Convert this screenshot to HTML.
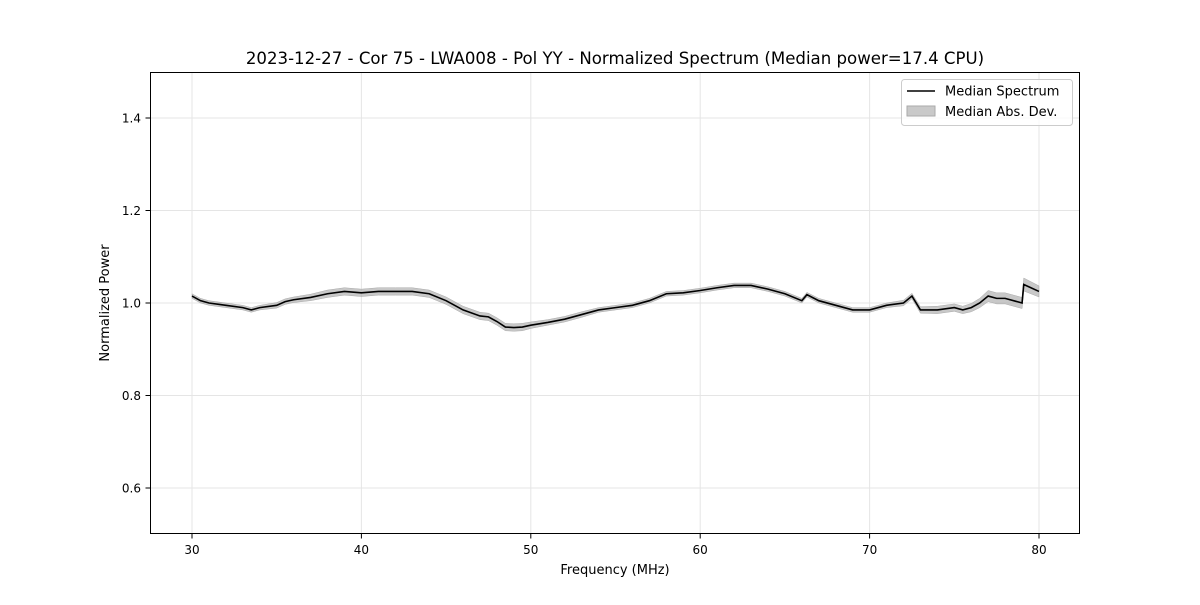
<!DOCTYPE html>
<html><head><meta charset="utf-8"><style>
body{margin:0;background:#fff;font-family:"Liberation Sans","DejaVu Sans",sans-serif;}
</style></head><body>
<svg id="chart" width="1200" height="600" xmlns="http://www.w3.org/2000/svg" font-family="DejaVu Sans, Liberation Sans, sans-serif">
<rect width="1200" height="600" fill="#fff"/>
<text x="615" y="64" text-anchor="middle" font-size="16.6">2023-12-27 - Cor 75 - LWA008 - Pol YY - Normalized Spectrum (Median power=17.4 CPU)</text>
<g id="grid"></g>
<g id="marks"></g>
<rect x="150.5" y="72.5" width="929" height="461" fill="none" stroke="#000" stroke-width="1"/>
<g id="axes"></g>
<text x="615" y="574" text-anchor="middle" font-size="13">Frequency (MHz)</text>
<text transform="translate(109,303) rotate(-90)" text-anchor="middle" font-size="13">Normalized Power</text>
<g>
<rect x="901.5" y="79.5" width="171" height="46" rx="3" fill="#fff" fill-opacity="0.8" stroke="#ccc"/>
<line x1="907" y1="91" x2="935" y2="91" stroke="#000" stroke-width="1.6"/>
<text x="945" y="95.5" font-size="13">Median Spectrum</text>
<rect x="907" y="106" width="28" height="10" fill="#bbb" fill-opacity="0.8" stroke="#aaa"/>
<text x="945" y="116" font-size="13">Median Abs. Dev.</text>
</g>
</svg>
<script>
const freqs=[30,30.5,31,32,33,33.5,34,35,35.5,36,37,38,39,40,41,42,43,44,45,46,47,47.5,48,48.5,49,49.5,50,51,52,53,54,55,56,57,58,59,60,61,62,63,64,65,66,66.3,67,68,69,70,71,72,72.5,73,74,75,75.5,76,76.5,77,77.5,78,79,79.1,80];
const power=[1.015,1.005,1.0,0.995,0.99,0.985,0.99,0.995,1.003,1.007,1.012,1.02,1.025,1.022,1.025,1.025,1.025,1.02,1.005,0.985,0.972,0.97,0.96,0.948,0.947,0.948,0.952,0.958,0.965,0.975,0.985,0.99,0.995,1.005,1.02,1.022,1.027,1.033,1.038,1.038,1.03,1.02,1.005,1.018,1.005,0.995,0.985,0.985,0.995,1.0,1.015,0.985,0.985,0.99,0.985,0.99,1.0,1.015,1.01,1.01,1.0,1.04,1.025];
const mad=[0.005,0.005,0.005,0.005,0.005,0.005,0.005,0.006,0.006,0.006,0.007,0.008,0.008,0.008,0.008,0.008,0.008,0.008,0.008,0.008,0.008,0.008,0.008,0.008,0.008,0.008,0.007,0.006,0.006,0.006,0.005,0.005,0.005,0.005,0.005,0.005,0.005,0.005,0.005,0.005,0.005,0.005,0.005,0.005,0.005,0.005,0.005,0.005,0.005,0.006,0.006,0.007,0.008,0.008,0.008,0.009,0.01,0.012,0.012,0.012,0.012,0.014,0.012];
const xTicks=[30,40,50,60,70,80];
const yTicks=[0.6,0.8,1.0,1.2,1.4];
const NS="http://www.w3.org/2000/svg";
const X=v=>192+(v-30)*16.94;
const Y=v=>71.75+(1.5-v)*462.5;
function mk(tag,attrs,parent){const e=document.createElementNS(NS,tag);for(const k in attrs)e.setAttribute(k,attrs[k]);parent.appendChild(e);return e;}
const grid=document.getElementById('grid'),axes=document.getElementById('axes'),marks=document.getElementById('marks');
xTicks.forEach(t=>{
 const g=mk('line',{x1:X(t),x2:X(t),y1:72,y2:534,stroke:'#e5e5e5','stroke-width':1},grid);
 
 
 mk('line',{x1:X(t),x2:X(t),y1:534,y2:538.5,stroke:'#000'},axes);
 const tx=mk('text',{x:X(t),y:554,'text-anchor':'middle','font-size':12},axes);
 tx.textContent=t;
 
 
});
yTicks.forEach(t=>{
 const g=mk('line',{x1:150,x2:1080,y1:Y(t),y2:Y(t),stroke:'#e5e5e5','stroke-width':1},grid);
 
 
 mk('line',{x1:145.5,x2:150,y1:Y(t),y2:Y(t),stroke:'#000'},axes);
 const tx=mk('text',{x:141,y:Y(t)+4.5,'text-anchor':'end','font-size':12},axes);
 tx.textContent=t.toFixed(1);
 
 
});
let up=freqs.map((f,i)=>X(f)+','+Y(power[i]+mad[i]));
let dn=freqs.map((f,i)=>X(f)+','+Y(power[i]-mad[i])).reverse();
const band=mk('polygon',{points:up.concat(dn).join(' '),fill:'#aaa','fill-opacity':0.65,stroke:'#aaa','stroke-width':0.5},marks);


const line=mk('polyline',{points:freqs.map((f,i)=>X(f)+','+Y(power[i])).join(' '),fill:'none',stroke:'#000','stroke-width':1.6},marks);


</script>
</body></html>
